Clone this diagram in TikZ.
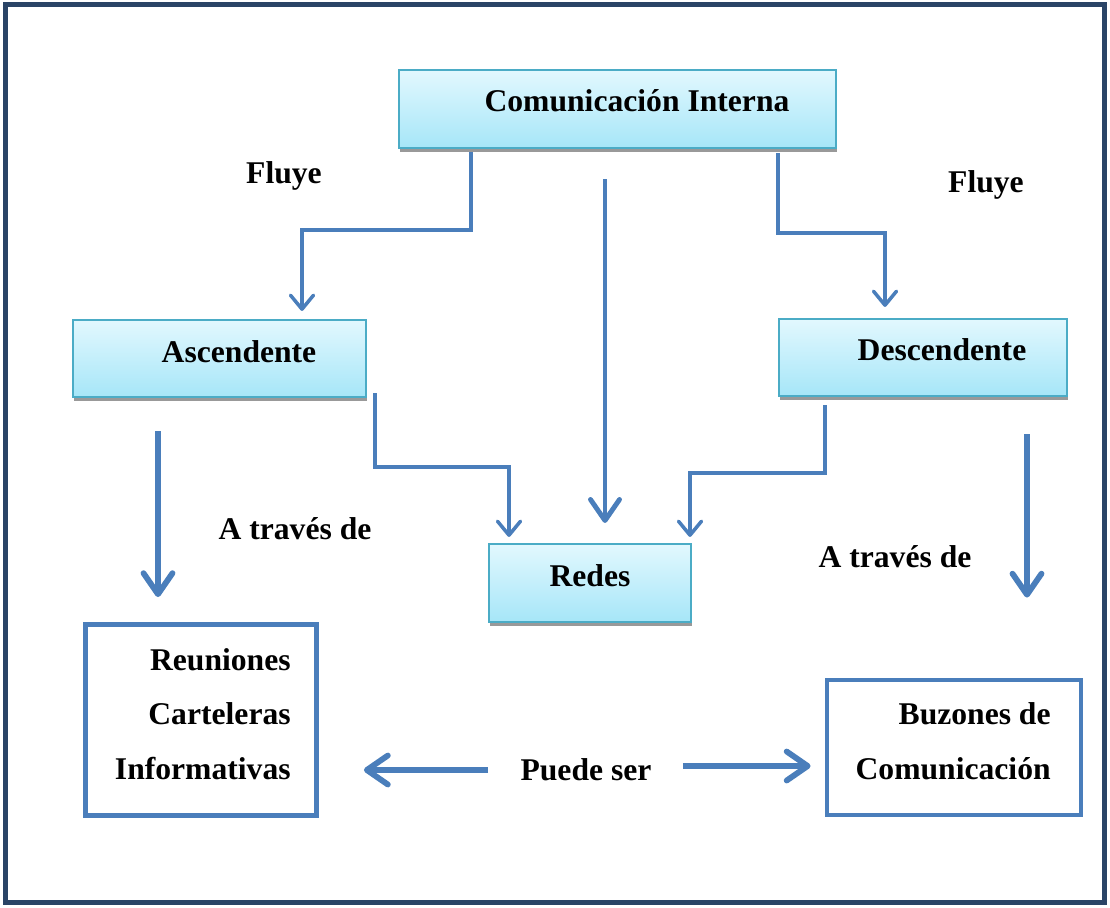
\documentclass[tikz,border=0pt]{standalone}
\usepackage{fontspec}
\setmainfont{Liberation Serif}
\usetikzlibrary{arrows.meta,shadows}
\definecolor{cajaArriba}{HTML}{E2F8FE}
\definecolor{cajaAbajo}{HTML}{A6E6F8}
\definecolor{cajaBorde}{HTML}{4BACC6}
\definecolor{flecha}{HTML}{4A7EBB}
\definecolor{marcoAzul}{HTML}{2A4466}

\begin{document}
\begin{tikzpicture}[
      x=0.02cm, y=-0.02cm,
      texto/.style={font=\fontsize{18}{31}\selectfont\bfseries, inner sep=0pt},
      caja/.style={draw=cajaBorde, line width=1.2pt, top color=cajaArriba, bottom color=cajaAbajo,
                   drop shadow={shadow xshift=0.02cm, shadow yshift=-0.08cm, opacity=1, fill=black!40}}, % cajas celestes
      cuadro/.style={draw=flecha, line width=2.8pt, fill=white}, % cajas blancas de abajo
      conector/.style={draw=flecha, line width=2pt, -{Straight Barb[round, length=0.28cm, width=0.46cm]}},
      gruesa/.style={draw=flecha, line width=3.3pt, -{Straight Barb[round, length=0.42cm, width=0.58cm]}}
    ]
    \useasboundingbox (0,0) rectangle (1110,907);
    \draw[marcoAzul, line width=2.8pt] (5.5,4.5) rectangle (1104.5,902.5);

    % Cajas
    \node[caja, minimum width=8.74cm, minimum height=1.56cm] (interna) at (617.5,109) {};
    \node[texto] (tInterna) at (637,101) {Comunicación Interna};
    \node[caja, minimum width=5.86cm, minimum height=1.54cm] (asc) at (219.5,358.5) {};
    \node[texto] (tAsc) at (239,352) {Ascendente};
    \node[caja, minimum width=5.76cm, minimum height=1.54cm] (desc) at (923,357.5) {};
    \node[texto] (tDesc) at (942,350) {Descendente};
    \node[caja, minimum width=4.04cm, minimum height=1.56cm] (redes) at (590,583) {};
    \node[texto] (tRedes) at (590,576) {Redes};
    \node[cuadro, minimum width=4.62cm, minimum height=3.82cm] (reun) at (201,720) {};
    \node[texto, align=right, anchor=east] (tReun) at (291,714) {Reuniones\\Carteleras\\Informativas};
    \node[cuadro, minimum width=5.08cm, minimum height=2.7cm] (buz) at (954,747.5) {};
    \node[texto, align=right, anchor=east] (tBuz) at (1051,741) {Buzones de\\Comunicación};

    % Etiquetas
    \node[texto] (fluyeA) at (284,176) {Fluye};
    \node[texto] (fluyeB) at (986,185) {Fluye};
    \node[texto] (atravesA) at (295,529) {A través de};
    \node[texto] (atravesB) at (895,557) {A través de};
    \node[texto] (puede) at (586,770) {Puede ser};

    % Conectores
    \draw[conector, shorten <=0.06cm, shorten >=0.16cm] (interna.south -| 471,0) |- (302,230) -- (asc.north -| 302,0);
    \draw[conector, shorten <=0.08cm, shorten >=0.22cm] (interna.south -| 778,0) |- (885,233) -- (desc.north -| 885,0);
    \draw[gruesa, line width=2.8pt, shorten <=0.6cm, shorten >=0.4cm] (interna.south -| 605,0) -- (redes.north -| 605,0);
    \draw[conector, shorten >=0.12cm] ([xshift=0.16cm, yshift=0.1cm]asc.south east) |- (509,467) -- (redes.north -| 509,0);
    \draw[conector, shorten <=0.16cm, shorten >=0.12cm] (desc.south -| 825,0) |- (690,473) -- (redes.north -| 690,0);
    \draw[gruesa, shorten <=0.66cm, shorten >=0.5cm] (asc.south -| 158,0) -- (reun.north -| 158,0);
    \draw[gruesa, shorten <=0.74cm, shorten >=1.6cm] (desc.south -| 1027,0) -- (buz.north -| 1027,0);
    \draw[gruesa, shorten <=0.64cm, shorten >=0.9cm] (puede.west) -- (reun.east |- puede.west);
    \draw[gruesa, shorten <=0.62cm, shorten >=0.28cm] ([yshift=0.08cm]puede.east) -- ([yshift=0.08cm]buz.west |- puede.east);
\end{tikzpicture}
\end{document}
